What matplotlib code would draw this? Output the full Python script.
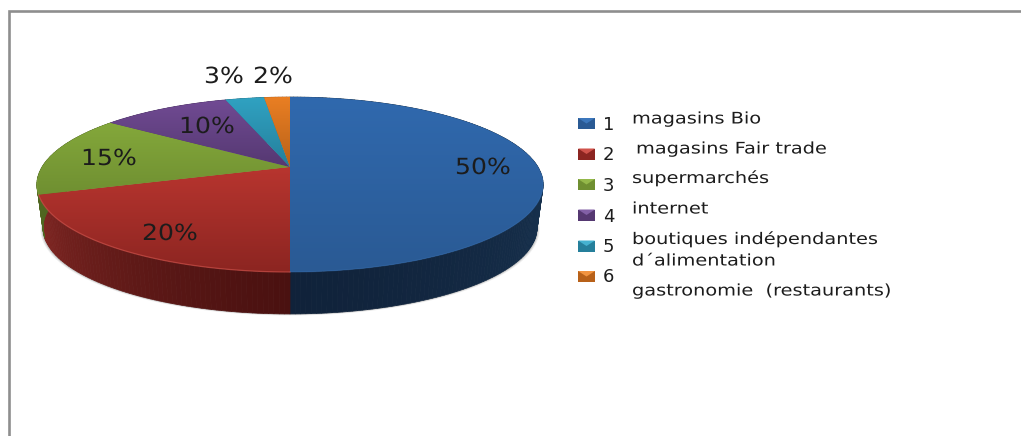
import numpy as np
import matplotlib
matplotlib.use("Agg")
import matplotlib.pyplot as plt
import matplotlib.patheffects as pe
from matplotlib.collections import PolyCollection
from matplotlib.colors import LinearSegmentedColormap
from matplotlib.patches import Polygon, Rectangle
from matplotlib.transforms import Affine2D, Transform

# Data
categories = ["1", "2", "3", "4", "5", "6"]
values = [50, 20, 15, 10, 3, 2]
pct_labels = ["50%", "20%", "15%", "10%", "3%", "2%"]
legend_texts = ["magasins Bio", "magasins Fair trade", "supermarchés", "internet",
                "boutiques indépendantes", "d´alimentation", "gastronomie  (restaurants)"]

# Styles
top_light = ["#3069AE", "#B8352F", "#84A83B", "#714B94", "#30A2C2", "#EA7F23"]
top_dark = ["#2A5A94", "#8C2521", "#6F8F31", "#553871", "#257F9B", "#B86119"]
side_near = ["#10223A", "#4A1110", "#4A5F1C", "#3D2853", "#1C5F74", "#8A4A14"]
side_far = ["#17324F", "#8A2A26", "#4F6620", "#4A3163", "#207085", "#9A5216"]
rim_light = ["#3C77BC", "#D0524B", "#94B84A", "#8260A6", "#45B2D0", "#F29440"]
rim_alpha = [0.3, 0.65, 0.3, 0.3, 0.3, 0.3]
pct_pos = [(455, 168), (142, 234), (81, 159), (179, 127), (204, 77), (253, 77)]
marker_y = [123.5, 154, 184.5, 215, 246, 276.5]
number_y = [125, 155, 186, 217, 247, 277]
legend_pos = [(632, 119), (636, 149), (632, 178), (632, 209), (632, 239), (632, 261), (632, 291)]
W, H = 1021, 436
CX, Y0, RX, RY, K = 290.0, 167.0, 248.0, 84.0, 0.2
Y1, RX2, RY2 = 210.8, 242.0, 82.5
TEXT = "#1c1c1c"


class Projection(Transform):
    """Perspective view of the unit-circle pie on the pixel-sized data space."""
    input_dims = output_dims = 2
    is_affine = False
    has_inverse = False

    def __init__(self, y0, rx, ry):
        super().__init__()
        self.y0, self.rx, self.ry = y0, rx, ry

    def transform_non_affine(self, xy):
        xy = np.asarray(xy, float)
        w = 1 + K * xy[:, 1]
        return np.column_stack([CX + self.rx * xy[:, 0] / w, self.y0 - self.ry * xy[:, 1] / w])


class StretchX(pe.AbstractPathEffect):
    """Draws text glyphs wider, as in the horizontally stretched original."""

    def __init__(self, sx):
        super().__init__()
        self.sx = sx

    def draw_path(self, renderer, gc, tpath, affine, rgbFace=None):
        renderer.draw_path(gc, tpath, Affine2D().scale(self.sx, 1) + affine, rgbFace)


top_proj = Projection(Y0, RX, RY)
low_proj = Projection(Y1, RX2, RY2)


def unit(deg):
    r = np.radians(deg)
    return np.column_stack([np.sin(r), np.cos(r)])


fig = plt.figure(figsize=(W / 100, H / 100), dpi=100, facecolor="white")
ax = fig.add_axes([0, 0, 1, 1])

wedges, _ = ax.pie(values, startangle=90, counterclock=False, radius=1, colors=top_dark)
ax.set_aspect("auto")
ax.axis("off")

# Frame lines of the original picture
ax.plot([8.7, 8.7, W], [H, 11, 11], color="#8e8e8e", lw=1.9, solid_joinstyle="miter",
        solid_capstyle="butt", zorder=1)

edges = np.cumsum([0] + values) / sum(values) * 360

# Soft shadow under the lower rim
all_t = np.arange(90, 271, 2.0)
rim = low_proj.transform_non_affine(unit(all_t))
for grow, alpha in [(2.6, 0.10), (1.6, 0.18), (0.7, 0.25)]:
    shifted = rim + np.column_stack([np.sin(np.radians(all_t)) * grow, np.full(len(rim), grow * 0.6)])
    ax.add_patch(Polygon(shifted, closed=True, fc="#555555", ec="none", alpha=alpha, zorder=1.5))

# Side wall, one thin strip per degree
for i, v in enumerate(values):
    ts = np.linspace(edges[i], edges[i + 1], max(2, int(edges[i + 1] - edges[i]) + 1))
    near = np.array(matplotlib.colors.to_rgb(side_near[i]))
    far = np.array(matplotlib.colors.to_rgb(side_far[i]))
    verts, cols = [], []
    for a, b in zip(ts[:-1], ts[1:]):
        ab = unit(np.array([a, b]))
        t = top_proj.transform_non_affine(ab)
        l = low_proj.transform_non_affine(ab)
        verts.append([t[0], t[1], l[1], l[0]])
        f = min(abs((a + b) / 2 - 180) / 80, 1) ** 1.2
        cols.append(near + (far - near) * f)
    ax.add_collection(PolyCollection(verts, facecolors=cols, edgecolors=cols, linewidths=0.5, zorder=2))

# Top face with a vertical gradient in each slice
for i, w in enumerate(wedges):
    w.set_transform(top_proj + ax.transData)
    w.set_zorder(3)
    w.set_edgecolor("none")
    box = top_proj.transform_path(w.get_path()).get_extents()
    cmap = LinearSegmentedColormap.from_list(f"g{i}", [top_light[i], top_dark[i]])
    im = ax.imshow(np.linspace(0, 1, 64)[:, None], cmap=cmap, aspect="auto", zorder=3.1,
                   extent=(box.x0 - 1, box.x1 + 1, box.y1 + 1, box.y0 - 1), interpolation="bilinear")
    im.set_clip_path(w)
    # Light edge where top and wall meet
    ts = np.arange(max(edges[i], 95), min(edges[i + 1], 262) + 0.5, 1.0)
    if len(ts) > 1:
        p = top_proj.transform_non_affine(unit(ts))
        ax.plot(p[:, 0], p[:, 1], color=rim_light[i], lw=0.9, alpha=rim_alpha[i], zorder=3.2)

for lab, (x, y) in zip(pct_labels, pct_pos):
    ax.text(x, y, lab, ha="left", va="center", fontsize=16, color=TEXT, family="DejaVu Sans",
            zorder=5, path_effects=[StretchX(1.13)])

# Legend
for i, c in enumerate(categories):
    y = marker_y[i]
    ax.add_patch(Rectangle((578, y - 5.5), 17, 11, fc=top_dark[i], ec="none", zorder=4))
    ax.add_patch(Polygon([(578, y - 5.5), (595, y - 5.5), (586.5, y)], closed=True,
                         fc=rim_light[i], ec="none", zorder=4.1))
    ax.text(603, number_y[i], c, ha="left", va="center", fontsize=13, color=TEXT,
            family="DejaVu Sans", zorder=5)

for s, (x, y) in zip(legend_texts, legend_pos):
    ax.text(x, y, s, ha="left", va="center", fontsize=11.5, color=TEXT, family="DejaVu Sans",
            zorder=5, path_effects=[StretchX(1.21)])

ax.set_xlim(0, W)
ax.set_ylim(H, 0)
fig.savefig("out.png", dpi=100, facecolor="white")
